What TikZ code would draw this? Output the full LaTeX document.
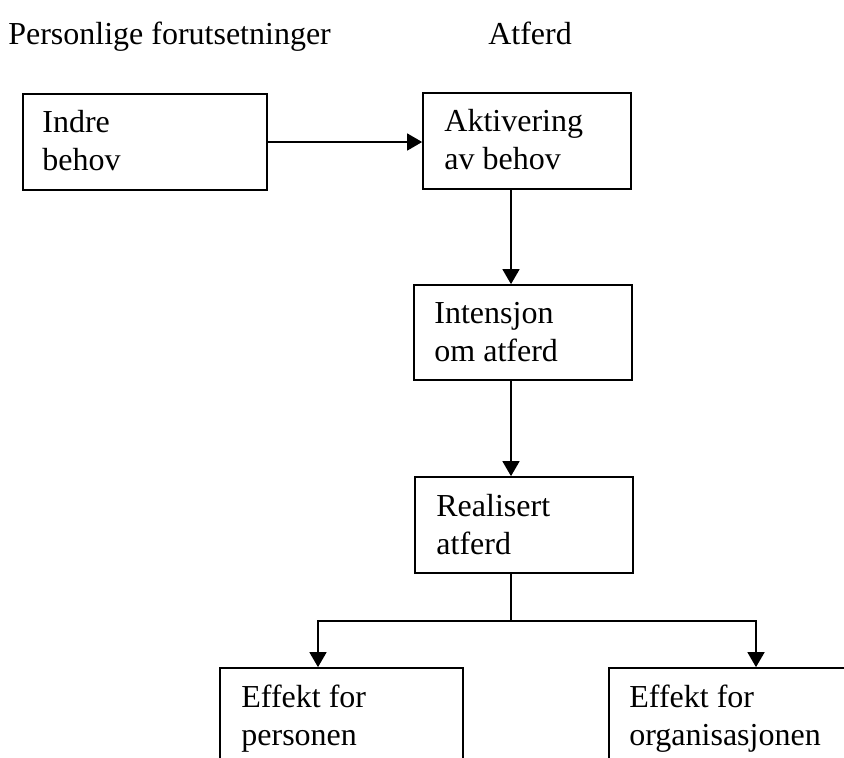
\documentclass[tikz,border=0pt]{standalone}
\usepackage{fontspec}
\setmainfont{Liberation Serif}
\usetikzlibrary{arrows.meta}
\tikzset{
  box/.style 2 args={draw=black, line width=1.3pt, rectangle, inner sep=0pt,
    minimum width=#1*0.75pt, minimum height=#2*0.75pt},
  txt/.style={anchor=north west, inner sep=0pt, align=left,
    font=\fontsize{24}{28.5}\selectfont},
  head/.style={anchor=base west, inner sep=0pt,
    font=\fontsize{24}{28.5}\selectfont},
  arr/.style={draw=black, line width=1.2pt,
    -{Triangle[length=15*0.75pt, width=17*0.75pt]}},
  conn/.style={draw=black, line width=1.2pt}
}
\begin{document}
\begin{tikzpicture}[x=0.75pt, y=-0.75pt]
\useasboundingbox (0,0) rectangle (844,758);
\clip (0,0) rectangle (844,758);

% headers
\node[head] (h1) at (8,44) {Personlige forutsetninger};
\node[head] (h2) at (488,44) {Atferd};

% boxes
\node[box={244}{96}] (indre) at (145,142) {};
\node[box={208}{96}] (akt)   at (527,141) {};
\node[box={218}{95}] (int)   at (523,332.5) {};
\node[box={218}{96}] (real)  at (524,525) {};
\node[box={243}{132}] (pers) at (341.5,734) {};
\node[box={291}{132}] (org)  at (754.5,734) {};

% texts
\node[txt] (tindre) at ([xshift=20*0.75pt, yshift=-17*0.75pt]indre.north west) {Indre\\behov};
\node[txt] (takt)   at ([xshift=22*0.75pt, yshift=-17*0.75pt]akt.north west) {Aktivering\\av behov};
\node[txt] (tint)   at ([xshift=21*0.75pt, yshift=-18*0.75pt]int.north west) {Intensjon\\om atferd};
\node[txt] (treal)  at ([xshift=22*0.75pt, yshift=-18*0.75pt]real.north west) {Realisert\\atferd};
\node[txt] (tpers)  at ([xshift=22*0.75pt, yshift=-18*0.75pt]pers.north west) {Effekt for\\personen};
\node[txt] (torg)   at ([xshift=21*0.75pt, yshift=-18*0.75pt]org.north west) {Effekt for\\organisasjonen};

% helper coordinates
\coordinate (col) at (511,0);
\coordinate (split) at (511,621);
\coordinate (pl) at (318,621);
\coordinate (pr) at (756,621);

% connectors
\draw[arr] (indre.east) -- (indre.east -| akt.west);
\draw[arr] (akt.south -| col) -- (int.north -| col);
\draw[arr] (int.south -| col) -- (real.north -| col);
\draw[conn] (real.south -| col) -- (split);
\draw[arr] (split) -- (pl) -- (pl |- pers.north);
\draw[arr] (split) -- (pr) -- (pr |- org.north);
\end{tikzpicture}
\end{document}
